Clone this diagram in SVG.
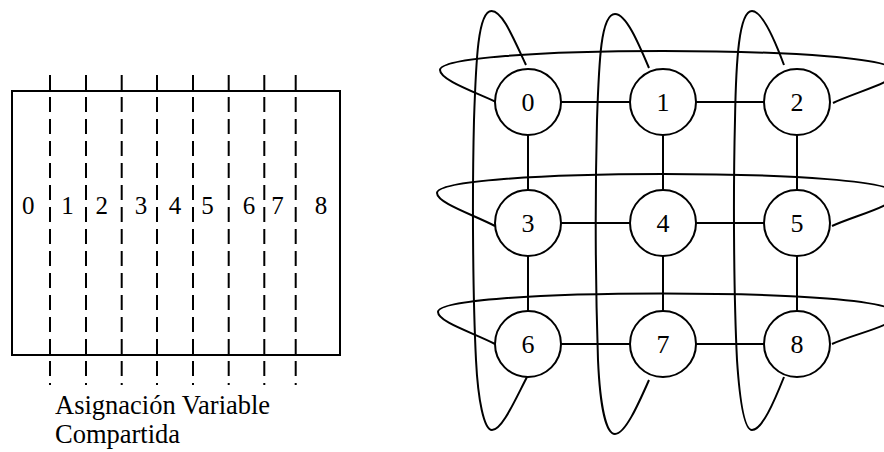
<svg xmlns="http://www.w3.org/2000/svg" width="884" height="452" viewBox="0 0 884 452">
<style>
.ln{fill:none;stroke:#000;stroke-width:2}
.dash{fill:none;stroke:#000;stroke-width:2;stroke-dasharray:15 7}
.nd{fill:#fff;stroke:#000;stroke-width:2}
.t{font-family:"Liberation Serif","Times New Roman",serif;fill:#000;text-anchor:middle}
.n{font-size:26px}
.d{font-size:25px}
.cap{font-family:"Liberation Serif","Times New Roman",serif;font-size:26.5px;fill:#000}
</style>
<rect width="884" height="452" fill="#fff"/>
<g id="shared-variable">
<rect class="ln" x="12" y="91" width="328" height="264"/>
<g class="dash">
<line x1="50" y1="75" x2="50" y2="385"/>
<line x1="86" y1="75" x2="86" y2="385"/>
<line x1="121.7" y1="75" x2="121.7" y2="385"/>
<line x1="157" y1="75" x2="157" y2="385"/>
<line x1="193" y1="75" x2="193" y2="385"/>
<line x1="228.7" y1="75" x2="228.7" y2="385"/>
<line x1="264.3" y1="75" x2="264.3" y2="385"/>
<line x1="295.7" y1="75" x2="295.7" y2="385"/>
</g>
<g class="t d">
<text x="28.3" y="214">0</text>
<text x="67.5" y="214">1</text>
<text x="101.7" y="214">2</text>
<text x="141" y="214">3</text>
<text x="175" y="214">4</text>
<text x="207.5" y="214">5</text>
<text x="249" y="214">6</text>
<text x="277.5" y="214">7</text>
<text x="321" y="214">8</text>
</g>
<text class="cap" x="55" y="413.5">Asignación Variable</text>
<text class="cap" x="55" y="443">Compartida</text>
</g>
<g id="connectors" class="ln">
<line x1="561" y1="102" x2="630" y2="102"/>
<line x1="696" y1="102" x2="764" y2="102"/>
<line x1="561" y1="223" x2="630" y2="223"/>
<line x1="696" y1="223" x2="764" y2="223"/>
<line x1="561" y1="344" x2="630" y2="344"/>
<line x1="696" y1="344" x2="764" y2="344"/>
<line x1="528" y1="135" x2="528" y2="190"/>
<line x1="528" y1="256" x2="528" y2="311"/>
<line x1="663" y1="135" x2="663" y2="190"/>
<line x1="663" y1="256" x2="663" y2="311"/>
<line x1="797" y1="135" x2="797" y2="190"/>
<line x1="797" y1="256" x2="797" y2="311"/>
<path d="M496,102 C475,92 440,80 440,70 C440,58 540,51 663,51 C790,51 896,58 896,72 C896,82 856,92 833,103"/>
<path d="M495,226 C474,215 437,203 437,193 C437,181 540,174 663,174 C790,174 896,181 896,194 C896,206 856,215 832,226"/>
<path d="M495,344 C474,333 438,322 438,312 C438,300 540,293.5 663,293.5 C790,293.5 896,300 896,314 C896,326 856,333 832,344"/>
<path d="M526,65 C512,35 502,11 491.5,11 C478,11 476,60 474,120 C472,200 473,300 476,360 C478,400 484,430 492,430 C502,430 515,400 527,377"/>
<path d="M649,68 C638,42 626,14 615,14 C601,14 599,60 597,120 C595,200 596,300 598,360 C600,405 606,434 615,434 C625,434 638,405 649,380"/>
<path d="M784,65 C774,38 762,11 752,11 C739,11 736,60 735,120 C733,200 734,300 737,360 C740,405 745,430 752,430 C762,430 774,402 784,377"/>
</g>
<g id="node-0"><circle class="nd" cx="528" cy="102" r="33"/><text class="t n" x="528" y="111">0</text></g>
<g id="node-1"><circle class="nd" cx="663" cy="102" r="33"/><text class="t n" x="663" y="111">1</text></g>
<g id="node-2"><circle class="nd" cx="797" cy="102" r="33"/><text class="t n" x="797" y="111">2</text></g>
<g id="node-3"><circle class="nd" cx="528" cy="223" r="33"/><text class="t n" x="528" y="232">3</text></g>
<g id="node-4"><circle class="nd" cx="663" cy="223" r="33"/><text class="t n" x="663" y="232">4</text></g>
<g id="node-5"><circle class="nd" cx="797" cy="223" r="33"/><text class="t n" x="797" y="232">5</text></g>
<g id="node-6"><circle class="nd" cx="528" cy="344" r="33"/><text class="t n" x="528" y="353">6</text></g>
<g id="node-7"><circle class="nd" cx="663" cy="344" r="33"/><text class="t n" x="663" y="353">7</text></g>
<g id="node-8"><circle class="nd" cx="797" cy="344" r="33"/><text class="t n" x="797" y="353">8</text></g>
</svg>
